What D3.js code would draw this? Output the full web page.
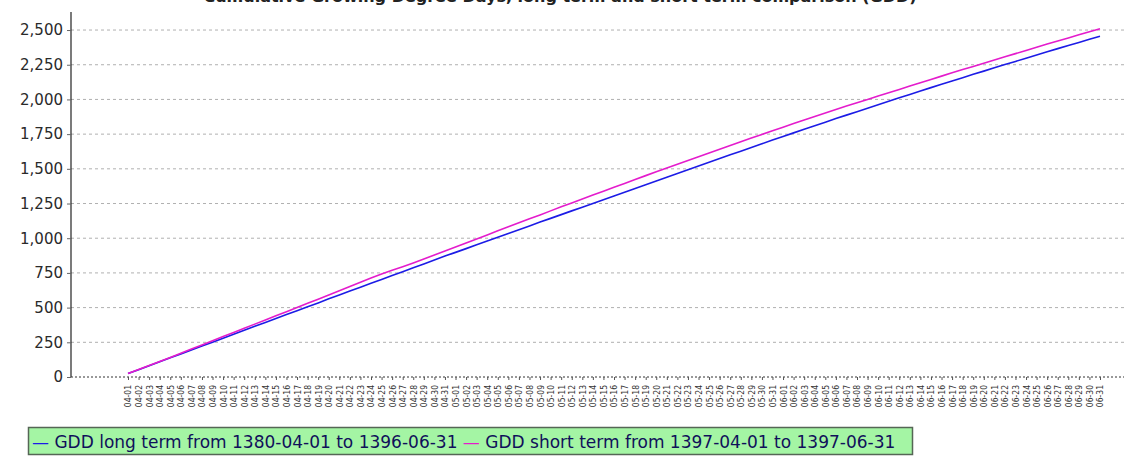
<!DOCTYPE html>
<html><head><meta charset="utf-8">
<script src="https://cdn.jsdelivr.net/npm/d3@7"></script>
<style>body{margin:0;background:#fff}svg{display:block}</style>
</head><body>
<script>
const titleText = "Cumulative Growing Degree Days, long term and short term comparison (GDD)";
const months = ["04","05","06"];
const days = ["01","02","03","04","05","06","07","08","09","10","11","12","13","14","15","16","17","18","19","20","21","22","23","24","25","26","27","28","29","30","31"];
const categories = months.flatMap(m => days.map(d => m + "-" + d));
const yTicks = [0,250,500,750,1000,1250,1500,1750,2000,2250,2500];
const seriesNames = ["GDD long term from 1380-04-01 to 1396-06-31","GDD short term from 1397-04-01 to 1397-06-31"];
const longTerm = [25,53,81,110,138,166,195,223,251,280,308,336,365,393,421,450,478,506,534,563,591,619,647,675,703,731,759,787,815,843,871,
898,925,953,980,1007,1034,1061,1088,1116,1143,1170,1197,1224,1251,1278,1305,1332,1359,1386,1413,1440,1467,1494,1521,1547,1574,1601,1627,1654,1680,1707,
1733,1759,1785,1811,1836,1862,1887,1912,1937,1962,1987,2012,2036,2061,2085,2109,2133,2157,2181,2204,2228,2251,2274,2297,2320,2343,2366,2389,2411,2434,2456];
const shortTerm = [25,54,83,112,141,171,201,231,261,291,321,351,381,411,441,471,501,531,561,591,621,652,683,714,743,769,795,822,850,879,908,
937,966,995,1024,1053,1082,1111,1140,1168,1197,1226,1254,1283,1311,1339,1367,1395,1423,1451,1479,1506,1533,1560,1587,1614,1641,1668,1695,1722,1748,1774,
1800,1826,1852,1877,1902,1927,1952,1976,2000,2024,2048,2072,2096,2120,2144,2168,2192,2215,2238,2261,2284,2307,2330,2353,2376,2399,2421,2443,2466,2488,2510];
const colors = ["#1c1ce6","#e41ccc"];

const W = 1126, H = 456;
const m = {left:71, right:1124, top:12, bottom:377};
const svg = d3.select("body").append("svg").attr("width",W).attr("height",H)
  .style("font-family","'DejaVu Sans', Verdana, sans-serif");

const x = d3.scalePoint().domain(categories).range([128, 1100]);
const y = d3.scaleLinear().domain([0, 2630]).range([m.bottom, m.top]);

// title (cut off at top, as in the reference)
svg.append("text").attr("x",560).attr("y",2).attr("text-anchor","middle")
  .attr("font-size",16).attr("font-weight","bold").attr("fill","#222").text(titleText);

// gridlines
svg.append("g").selectAll("line").data(yTicks.filter(d=>d>0)).join("line")
  .attr("x1",m.left).attr("x2",m.right).attr("y1",d=>y(d)).attr("y2",d=>y(d))
  .attr("stroke","#b0b0b0").attr("stroke-width",1).attr("stroke-dasharray","3,3");

// y axis
const yAxis = d3.axisLeft(y).tickValues(yTicks).tickFormat(d3.format(",")).tickSize(4).tickPadding(4);
const gy = svg.append("g").attr("transform",`translate(${m.left},0)`).call(yAxis);
gy.select(".domain").attr("d",`M0,${m.top}V${m.bottom}`).attr("stroke","#222").attr("stroke-width",1.2);
gy.selectAll(".tick line").attr("stroke","#666");
gy.selectAll(".tick text").attr("font-size",15).attr("fill","#2a2a2a").attr("font-family","'DejaVu Sans', sans-serif");

// x axis
const xAxis = d3.axisBottom(x).tickSize(3).tickPadding(2);
const gx = svg.append("g").attr("transform",`translate(0,${m.bottom})`).call(xAxis);
gx.select(".domain").attr("d",`M${m.left},0H${m.right}`).attr("stroke","#333").attr("stroke-dasharray","2,2");
gx.selectAll(".tick line").attr("stroke","#555");
gx.selectAll(".tick text").attr("font-size",8.5).attr("fill","#333")
  .attr("font-family","'DejaVu Sans Condensed', 'DejaVu Sans', sans-serif")
  .attr("font-stretch","condensed")
  .attr("transform","rotate(-90)").attr("text-anchor","end").attr("dy","0.35em").attr("x",-8).attr("y",0);

// lines
const line = d3.line().x((d,i)=>x(categories[i])).y(d=>y(d));
[longTerm, shortTerm].forEach((s,k)=>{
  svg.append("path").datum(s).attr("d",line).attr("fill","none")
    .attr("stroke",colors[k]).attr("stroke-width",1.6);
});

// legend
const lg = svg.append("g");
lg.append("rect").attr("x",28.5).attr("y",427.5).attr("width",884).attr("height",27)
  .attr("fill","#a4f5a4").attr("stroke","#556655").attr("stroke-width",1.5);
const lt = lg.append("text").attr("x",32).attr("y",447.5).attr("font-size",17).attr("fill","#10105a");
seriesNames.forEach((n,k)=>{
  lt.append("tspan").attr("fill",colors[k]).text((k?" ":"")+"—");
  lt.append("tspan").attr("fill","#10105a").text(" " + n);
});
</script>
</body></html>
